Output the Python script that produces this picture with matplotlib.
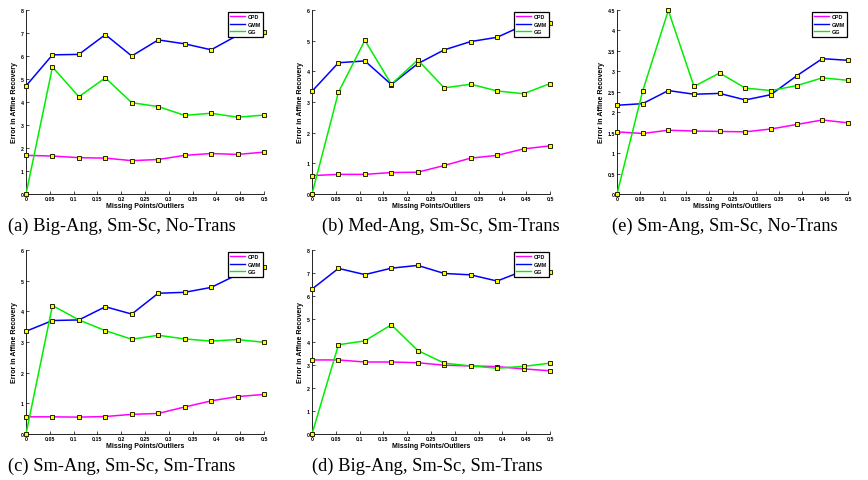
import matplotlib
matplotlib.use("Agg")
import matplotlib.pyplot as plt
import numpy as np

x_vals = [0, 0.0556, 0.1111, 0.1667, 0.2222, 0.2778, 0.3333, 0.3889, 0.4444, 0.5]
x_ticks = [0, 0.05, 0.1, 0.15, 0.2, 0.25, 0.3, 0.35, 0.4, 0.45, 0.5]
x_tick_labels = ["0", "0.05", "0.1", "0.15", "0.2", "0.25", "0.3", "0.35", "0.4", "0.45", "0.5"]

# (a) Big-Ang, Sm-Sc, No-Trans
a_cpd = [1.68, 1.65, 1.58, 1.56, 1.45, 1.50, 1.68, 1.76, 1.72, 1.82]
a_gmm = [4.70, 6.05, 6.07, 6.93, 6.00, 6.70, 6.53, 6.27, 6.90, 7.05]
a_gg = [0.00, 5.52, 4.23, 5.05, 3.97, 3.80, 3.42, 3.51, 3.34, 3.43]

# (b) Med-Ang, Sm-Sc, Sm-Trans
b_cpd = [0.60, 0.64, 0.64, 0.70, 0.71, 0.93, 1.17, 1.26, 1.47, 1.57]
b_gmm = [3.35, 4.28, 4.34, 3.57, 4.25, 4.70, 4.97, 5.11, 5.50, 5.57]
b_gg = [0.00, 3.32, 5.01, 3.58, 4.37, 3.46, 3.58, 3.36, 3.27, 3.60]

# (e) Sm-Ang, Sm-Sc, No-Trans
e_cpd = [1.52, 1.48, 1.56, 1.54, 1.53, 1.52, 1.59, 1.70, 1.81, 1.74]
e_gmm = [2.17, 2.21, 2.53, 2.44, 2.46, 2.30, 2.43, 2.89, 3.31, 3.27]
e_gg = [0.00, 2.52, 4.49, 2.63, 2.96, 2.59, 2.53, 2.65, 2.84, 2.78]

# (c) Sm-Ang, Sm-Sc, Sm-Trans
c_cpd = [0.56, 0.56, 0.55, 0.57, 0.64, 0.67, 0.88, 1.08, 1.22, 1.29]
c_gmm = [3.35, 3.70, 3.72, 4.15, 3.91, 4.59, 4.62, 4.78, 5.20, 5.44]
c_gg = [0.00, 4.19, 3.72, 3.37, 3.09, 3.22, 3.10, 3.03, 3.08, 2.99]

# (d) Big-Ang, Sm-Sc, Sm-Trans
d_cpd = [3.22, 3.22, 3.13, 3.13, 3.10, 2.99, 2.96, 2.93, 2.83, 2.75]
d_gmm = [6.30, 7.20, 6.93, 7.21, 7.33, 6.98, 6.92, 6.65, 7.10, 7.05]
d_gg = [0.00, 3.88, 4.05, 4.75, 3.63, 3.08, 2.96, 2.86, 2.94, 3.08]

captions = ["(a) Big-Ang, Sm-Sc, No-Trans", "(b) Med-Ang, Sm-Sc, Sm-Trans",
            "(e) Sm-Ang, Sm-Sc, No-Trans", "(c) Sm-Ang, Sm-Sc, Sm-Trans",
            "(d) Big-Ang, Sm-Sc, Sm-Trans"]
series_names = ["CPD", "GMM", "GG"]
colors = ["#ff00ff", "#0000ff", "#00ee00"]

W, H = 868, 481
fig = plt.figure(figsize=(W / 100, H / 100), dpi=100)

panels = [
    (a_cpd, a_gmm, a_gg, 8, [0, 1, 2, 3, 4, 5, 6, 7, 8], ["0", "1", "2", "3", "4", "5", "6", "7", "8"], (26, 11, 264, 195), (122, 226)),
    (b_cpd, b_gmm, b_gg, 6, [0, 1, 2, 3, 4, 5, 6], ["0", "1", "2", "3", "4", "5", "6"], (312, 11, 550, 195), (441, 226)),
    (e_cpd, e_gmm, e_gg, 4.5, [0, 0.5, 1, 1.5, 2, 2.5, 3, 3.5, 4, 4.5], ["0", "0.5", "1", "1.5", "2", "2.5", "3", "3.5", "4", "4.5"], (617, 11, 848, 195), (725, 226)),
    (c_cpd, c_gmm, c_gg, 6, [0, 1, 2, 3, 4, 5, 6], ["0", "1", "2", "3", "4", "5", "6"], (26, 251, 264, 435), (122, 466)),
    (d_cpd, d_gmm, d_gg, 8, [0, 1, 2, 3, 4, 5, 6, 7, 8], ["0", "1", "2", "3", "4", "5", "6", "7", "8"], (312, 251, 550, 435), (427, 466)),
]

font = ["Liberation Sans", "DejaVu Sans"]
for i, (cpd, gmm, gg, ymax, yt, ytl, (l, t, r, b), (cx, cy)) in enumerate(panels):
    ax = fig.add_axes([l / W, 1 - b / H, (r - l) / W, (b - t) / H])
    for vals, name, col in zip([cpd, gmm, gg], series_names, colors):
        ax.plot(x_vals, vals, color=col, lw=1.1, label=name, marker="s", ms=2.3,
                mfc="#ffff00", mec="#222200", mew=0.7, clip_on=False, zorder=3)
    ax.set_xlim(0, 0.5)
    ax.set_ylim(0, ymax)
    ax.set_xticks(x_ticks)
    ax.set_xticklabels(x_tick_labels)
    ax.set_yticks(yt)
    ax.set_yticklabels(ytl)
    ax.spines["top"].set_visible(False)
    ax.spines["right"].set_visible(False)
    for s in ["left", "bottom"]:
        ax.spines[s].set_linewidth(0.6)
    ax.tick_params(direction="in", length=2, width=0.5, labelsize=3.8, pad=1.5)
    for lab in ax.get_xticklabels() + ax.get_yticklabels():
        lab.set_family(font)
        lab.set_fontweight("bold")
    ax.set_xlabel("Missing Points/Outliers", fontsize=5, fontweight="bold", family=font, labelpad=1)
    ax.set_ylabel("Error in Affine Recovery", fontsize=5, fontweight="bold", family=font, labelpad=2)
    leg = ax.legend(loc="upper right", bbox_to_anchor=(0.997, 0.99), prop={"family": font, "weight": "bold", "size": 3.9},
                    frameon=True, fancybox=False, edgecolor="black", framealpha=1, borderpad=0.45,
                    handlelength=2.8, handletextpad=0.4, labelspacing=0.45, borderaxespad=0.0)
    leg.get_frame().set_linewidth(0.9)
    for h in leg.legend_handles:
        h.set_marker("")
        h.set_linewidth(1.0)
    leg.set_zorder(10)
    fig.text(cx / W, 1 - cy / H, captions[i], ha="center", va="center",
             fontsize=13.3, family=["Liberation Serif", "DejaVu Serif"])

fig.savefig("out.png", dpi=100)
